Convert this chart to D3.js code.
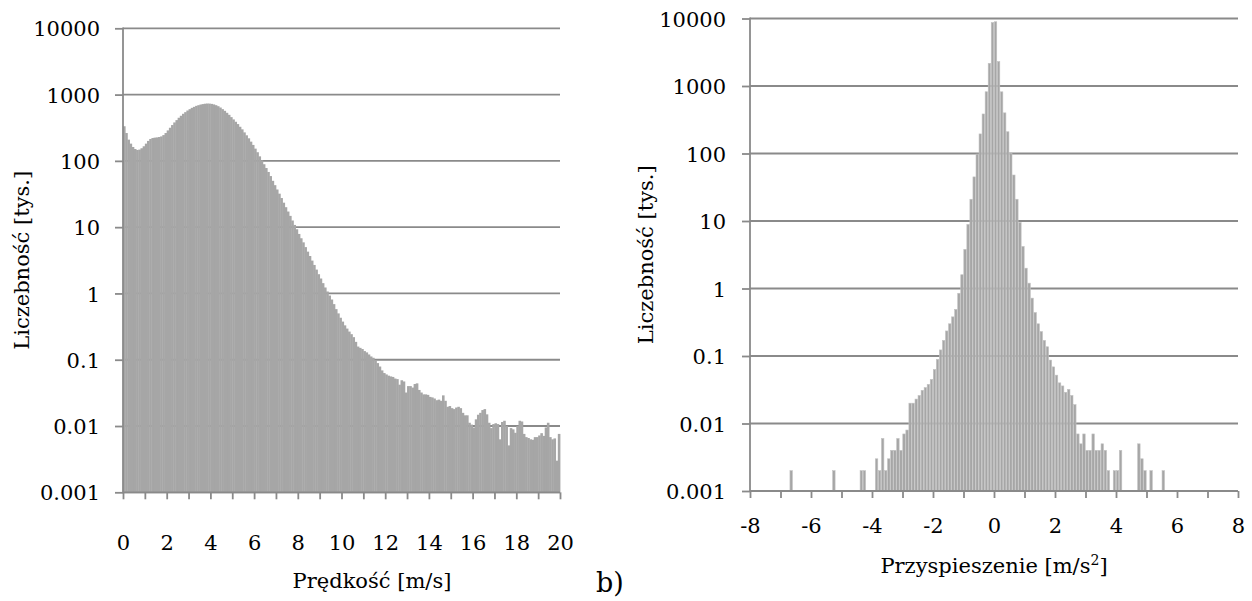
<!DOCTYPE html>
<html>
<head>
<meta charset="utf-8">
<script src="https://cdn.jsdelivr.net/npm/d3@7"></script>
<style>
  html, body { margin: 0; padding: 0; background: #fff; }
  svg { display: block; }
  text { font-family: "DejaVu Serif", serif; fill: #000; }
</style>
</head>
<body>
<svg id="chart" width="1252" height="601"></svg>
<script>
// ---- Speed histogram: 0.1 m/s bins from 0 to 20 m/s, counts in thousands ----
const speedBinWidth = 0.1;
const speedCounts = [
  333, 263, 209, 182, 162, 151, 146, 148, 155, 166,
  182, 200, 214, 221, 224, 226, 229, 234, 245, 263,
  288, 316, 347, 380, 412, 447, 479, 513, 543, 575,
  603, 631, 653, 676, 692, 708, 719, 728, 733, 731,
  724, 711, 692, 668, 638, 603, 569, 531, 495, 457,
  422, 389, 359, 327, 299, 269, 243, 219, 195, 174,
  153, 135, 117, 102, 89, 78, 68, 59, 50, 43,
  37, 32, 27.5, 23.4, 20, 17.2, 14.8, 12.6, 10.8, 9.3,
  7.9, 6.8, 5.9, 5.0, 4.27, 3.67, 3.13, 2.69, 2.29, 1.95,
  1.68, 1.43, 1.23, 1.07, 0.93, 0.81, 0.69, 0.58, 0.50, 0.43,
  0.376, 0.33, 0.295, 0.266, 0.243, 0.219, 0.186, 0.158, 0.151, 0.145,
  0.135, 0.129, 0.12, 0.112, 0.107, 0.098, 0.089, 0.079, 0.069, 0.063,
  0.060, 0.0575, 0.056, 0.055, 0.052, 0.051, 0.042, 0.049, 0.047, 0.032,
  0.040, 0.040, 0.038, 0.043, 0.044, 0.035, 0.032, 0.030, 0.030, 0.0295,
  0.0275, 0.027, 0.026, 0.0245, 0.025, 0.024, 0.029, 0.024, 0.0195, 0.020,
  0.0186, 0.018, 0.019, 0.0195, 0.0186, 0.0158, 0.0145, 0.0145, 0.0112, 0.0105,
  0.0095, 0.0126, 0.0148, 0.0158, 0.0174, 0.018, 0.015, 0.0112, 0.0093, 0.0107,
  0.011, 0.0107, 0.0063, 0.0115, 0.012, 0.010, 0.0051, 0.0093, 0.0089, 0.0079,
  0.010, 0.012, 0.0117, 0.0076, 0.0068, 0.0066, 0.0063, 0.0062, 0.0068, 0.0068,
  0.0072, 0.0078, 0.0071, 0.0095, 0.0112, 0.0068, 0.0063, 0.0065, 0.003, 0.0076
];

// ---- Acceleration histogram: 0.1 m/s² bins, left edges of non-empty bins, counts in thousands ----
const accelBinWidth = 0.1;
const accelBinStarts = [
  -6.7, -5.3, -4.4, -4.3,
  -3.9, -3.8, -3.7, -3.6, -3.5, -3.4, -3.3, -3.2, -3.1, -3.0,
  -2.9, -2.8, -2.7, -2.6, -2.5, -2.4, -2.3, -2.2, -2.1, -2.0,
  -1.9, -1.8, -1.7, -1.6, -1.5, -1.4, -1.3, -1.2, -1.1, -1.0,
  -0.9, -0.8, -0.7, -0.6, -0.5, -0.4, -0.3, -0.2, -0.1,
  0.0, 0.1, 0.2, 0.3, 0.4, 0.5, 0.6, 0.7, 0.8, 0.9,
  1.0, 1.1, 1.2, 1.3, 1.4, 1.5, 1.6, 1.7, 1.8, 1.9,
  2.0, 2.1, 2.2, 2.3, 2.4, 2.5, 2.6, 2.7, 2.8, 2.9,
  3.0, 3.1, 3.2, 3.3, 3.4, 3.5, 3.6, 3.7,
  3.9, 4.0, 4.1, 4.7, 4.8, 4.9, 5.1, 5.5
];
const accelCounts = [
  0.002, 0.002, 0.002, 0.002,
  0.003, 0.002, 0.006, 0.002, 0.003, 0.004, 0.004, 0.006, 0.004, 0.007,
  0.008, 0.02, 0.02, 0.023, 0.026, 0.031, 0.034, 0.038, 0.045, 0.063,
  0.089, 0.123, 0.17, 0.235, 0.30, 0.38, 0.49, 0.85, 1.6, 3.8,
  8.9, 21, 45, 98, 195, 385, 822, 2170, 8700,
  8950, 2300, 820, 400, 210, 100, 48, 21, 9.5, 4.2,
  2.0, 1.2, 0.72, 0.44, 0.30, 0.23, 0.17, 0.137, 0.087, 0.069,
  0.052, 0.04, 0.036, 0.029, 0.032, 0.026, 0.019, 0.007, 0.005, 0.007,
  0.004, 0.004, 0.007, 0.004, 0.004, 0.005, 0.004, 0.002,
  0.002, 0.002, 0.004, 0.005, 0.003, 0.002, 0.002, 0.002
];

// ---- Axis ticks and labels ----
const countTicks = [0.001, 0.01, 0.1, 1, 10, 100, 1000, 10000];
const countTickLabels = ["0.001", "0.01", "0.1", "1", "10", "100", "1000", "10000"];
const speedTicks = [0, 1, 2, 3, 4, 5, 6, 7, 8, 9, 10, 11, 12, 13, 14, 15, 16, 17, 18, 19, 20];
const speedTickLabels = [0, 2, 4, 6, 8, 10, 12, 14, 16, 18, 20];
const accelTicks = [-8, -7, -6, -5, -4, -3, -2, -1, 0, 1, 2, 3, 4, 5, 6, 7, 8];
const accelTickLabels = [-8, -6, -4, -2, 0, 2, 4, 6, 8];

const yTitle = "Liczebność [tys.]";
const speedTitle = "Prędkość [m/s]";
const accelTitle = "Przyspieszenie [m/s";
const panelTag = "b)";

const svg = d3.select("#chart");
const AXIS = "#8a8a8a";
const BAR = "#a6a6a6";

function drawPanel(cfg) {
  const g = svg.append("g");
  const x = d3.scaleLinear().domain(cfg.xDomain).range([cfg.left, cfg.right]);
  const y = d3.scaleLog().domain([0.001, 10000]).range([cfg.bottom, cfg.top]);

  // horizontal gridlines, behind the bars
  g.append("g").selectAll("line").data(countTicks).join("line")
    .attr("x1", cfg.left).attr("x2", cfg.right)
    .attr("y1", d => y(d)).attr("y2", d => y(d))
    .attr("stroke", AXIS).attr("stroke-width", 1.8);

  // histogram bars
  g.append("g").selectAll("rect").data(cfg.bars).join("rect")
    .attr("x", d => x(d.start) + cfg.inset)
    .attr("width", d => x(d.start + cfg.binWidth) - x(d.start) - 2 * cfg.inset + cfg.overlap)
    .attr("y", d => y(d.value))
    .attr("height", d => cfg.bottom - y(d.value))
    .attr("fill", BAR)
    .attr("stroke", cfg.barStroke || "none")
    .attr("stroke-width", cfg.barStroke ? 0.6 : 0);

  // y axis with outward ticks and labels
  const yAxis = d3.axisLeft(y)
    .tickValues(countTicks)
    .tickFormat((d, i) => countTickLabels[i])
    .tickSize(8)
    .tickPadding(cfg.yPad);
  const ya = g.append("g").attr("transform", `translate(${cfg.left},0)`).call(yAxis);
  ya.select(".domain").attr("stroke", AXIS).attr("stroke-width", 1.8)
    .attr("d", `M0,${cfg.top - 0.9}V${cfg.bottom + 0.9}`);
  ya.selectAll(".tick line").attr("stroke", AXIS).attr("stroke-width", 1.8);
  ya.selectAll(".tick text")
    .attr("font-family", "DejaVu Serif").attr("font-size", 21).attr("fill", "#000")
    .attr("dy", "0.36em");

  // x axis with ticks every unit, labels every second unit
  const xAxis = d3.axisBottom(x)
    .tickValues(cfg.xTicks)
    .tickFormat(d => cfg.xLabels.includes(d) ? String(d) : "")
    .tickSize(7)
    .tickPadding(cfg.xPad);
  const xa = g.append("g").attr("transform", `translate(0,${cfg.bottom})`).call(xAxis);
  xa.select(".domain").attr("stroke", AXIS).attr("stroke-width", 1.8)
    .attr("d", `M${cfg.left},0H${cfg.right}`);
  xa.selectAll(".tick line").attr("stroke", AXIS).attr("stroke-width", 1.8);
  xa.selectAll(".tick text")
    .attr("font-family", "DejaVu Serif").attr("font-size", 21).attr("fill", "#000");

  // y axis title
  g.append("text")
    .attr("transform", `translate(${cfg.yTitleX},${(cfg.top + cfg.bottom) / 2}) rotate(-90)`)
    .attr("text-anchor", "middle").attr("dy", "0.35em")
    .attr("font-size", 21)
    .text(yTitle);

  // x axis title
  const xt = g.append("text")
    .attr("x", cfg.xTitleX).attr("y", cfg.xTitleY)
    .attr("text-anchor", "middle").attr("font-size", 21);
  xt.append("tspan").text(cfg.xTitle);
  if (cfg.superscript) {
    xt.append("tspan").attr("font-size", 14).attr("dy", "-0.55em").text(cfg.superscript);
    xt.append("tspan").attr("dy", "0.38em").text("]");
  }
}

drawPanel({
  left: 123, right: 560, top: 28.3, bottom: 492.3,
  xDomain: [0, 20], xTicks: speedTicks, xLabels: speedTickLabels,
  binWidth: speedBinWidth,
  bars: speedCounts.map((v, i) => ({ start: i * speedBinWidth, value: v })),
  inset: 0, overlap: 0.4,
  yPad: 15, xPad: 36,
  yTitleX: 22, xTitle: speedTitle, xTitleX: 372, xTitleY: 588
});

drawPanel({
  left: 750, right: 1238, top: 18.5, bottom: 491,
  xDomain: [-8, 8], xTicks: accelTicks, xLabels: accelTickLabels,
  binWidth: accelBinWidth,
  bars: accelBinStarts.map((s, i) => ({ start: s, value: accelCounts[i] })),
  inset: 0.3, overlap: 0, barStroke: "#c2c2c2",
  yPad: 16, xPad: 20,
  yTitleX: 646, xTitle: accelTitle, superscript: "2", xTitleX: 994, xTitleY: 573
});

// panel tag
svg.append("text")
  .attr("x", 610).attr("y", 592)
  .attr("text-anchor", "middle")
  .attr("font-family", "Lato, 'Open Sans', sans-serif")
  .attr("font-size", 27)
  .text(panelTag);
</script>
